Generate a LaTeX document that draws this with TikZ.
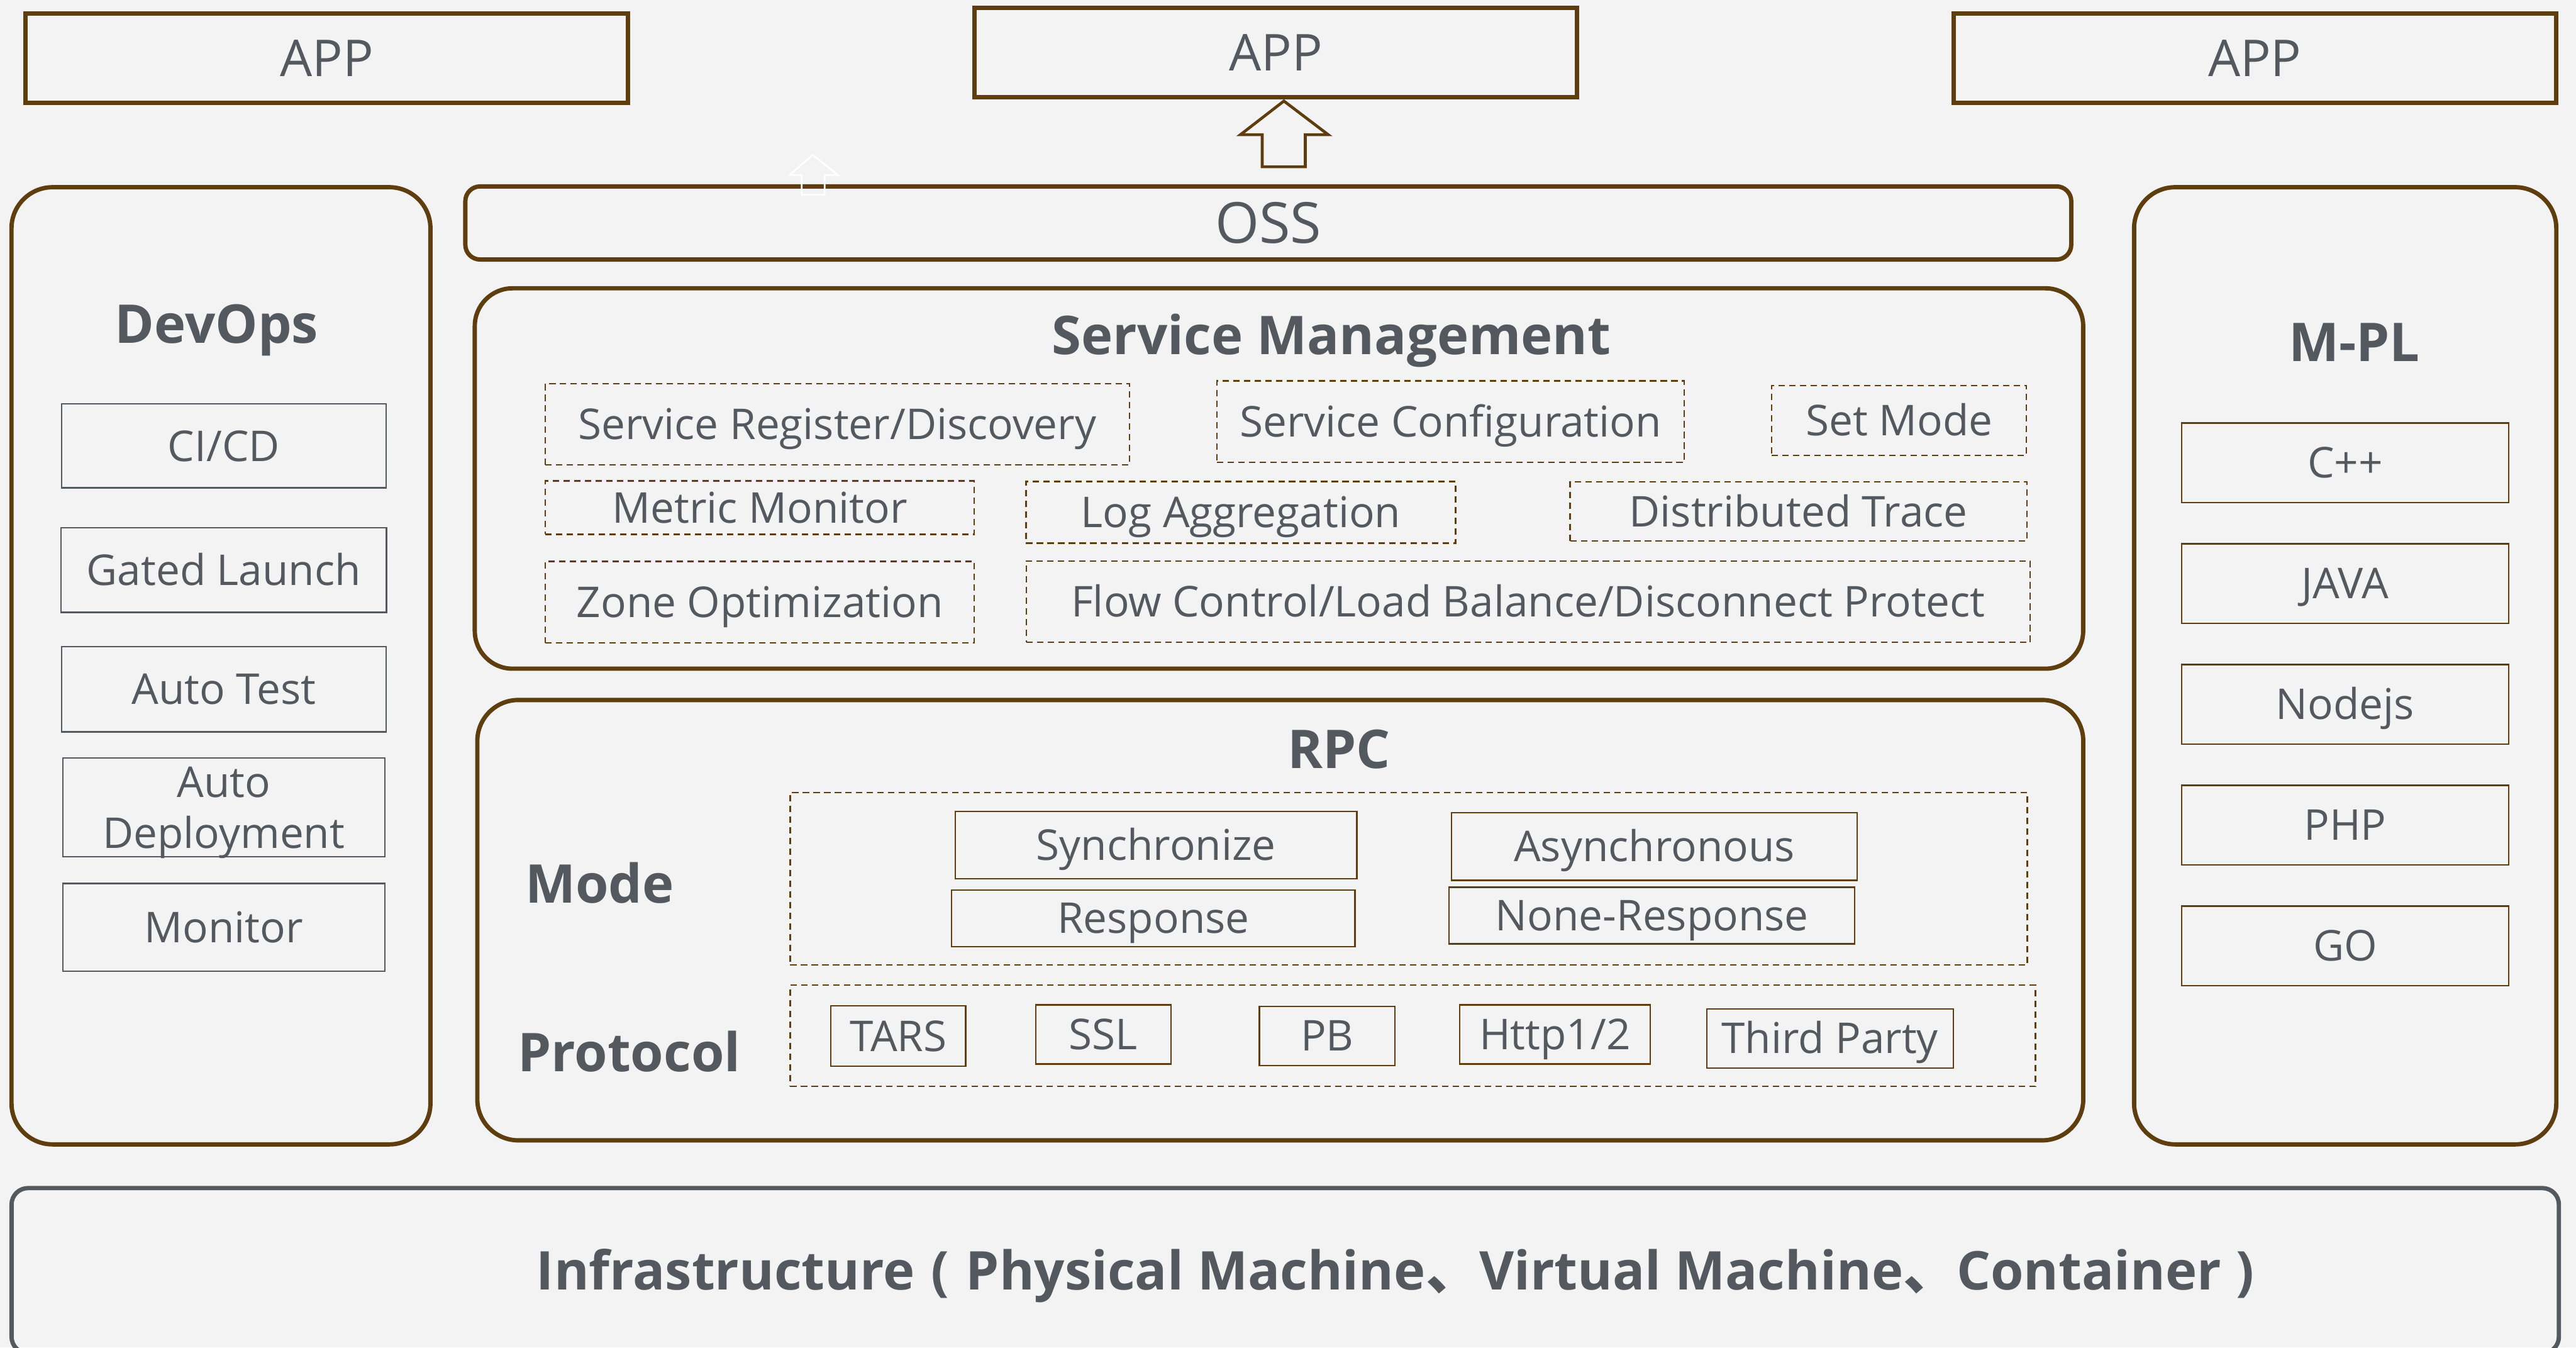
\documentclass[tikz,border=0pt]{standalone}
\usepackage{fontspec}
\setmainfont{Open Sans}
\newfontfamily\cjkfont{Noto Sans CJK SC}
\usetikzlibrary{positioning}
\definecolor{tarsbrown}{RGB}{94,61,14}
\definecolor{tarsgrey}{RGB}{84,89,96}
\definecolor{paper}{RGB}{243,243,243}
\begin{document}
\begin{tikzpicture}[x=0.2mm, y=-0.2mm,
  every node/.style={text=tarsgrey, inner sep=0pt},
  wall/.style={draw=tarsbrown, line width=1.5pt},
  frame/.style={wall, rounded corners=5mm},
  appbox/.style={wall, minimum width=73.3mm, minimum height=10.9mm,
    font=\fontsize{17.6}{21}\selectfont, text height=12.6pt, text depth=0pt},
  item/.style={line width=0.5pt, font=\fontsize{14.7}{17.5}\selectfont,
    text height=10.5pt, text depth=0pt},
  greybox/.style={item, draw=tarsgrey},
  brownbox/.style={item, draw=tarsbrown},
  dashbox/.style={item, draw=tarsbrown, dash pattern=on 2.2pt off 1.5pt},
  heading/.style={anchor=base, font=\bfseries\fontsize{18.5}{22}\selectfont}]
  \path[use as bounding box, fill=paper] (0,0) rectangle (1568,820);
  \clip (0,0) rectangle (1568,820);

  \node (app1) [appbox] at (198.9,35.5) {APP};
  \node (app2) [appbox] at (776.5,32) {APP};
  \node (app3) [appbox] at (1372.5,35.4) {APP};
  \node (oss) [wall, rounded corners=1.8mm, minimum width=195.5mm, minimum height=8.9mm,
    font=\fontsize{19.6}{23}\selectfont, text height=14pt, text depth=0pt] at (772,135.7) {OSS};
  \draw[tarsbrown, line width=1pt] (781.5,61.5) -- (808.5,82) -- (794.5,82) -- (794.5,101.5)
    -- (768.3,101.5) -- (768.3,82) -- (755,82) -- cycle;
  \draw[white, line width=0.6pt] (494.7,94.3) -- (510,106.5) -- (502,106.5) -- (502,118.6)
    -- (488,118.6) -- (488,106.5) -- (480.6,106.5) -- cycle;

  \node (devops) [frame, minimum width=51mm, minimum height=116.5mm] at (134.5,405.2) {};
  \node (mpl) [frame, minimum width=51.4mm, minimum height=116.5mm] at (1427.5,405.2) {};
  \node (svc) [frame, rounded corners=4.6mm, minimum width=195.8mm, minimum height=46.3mm] at (778.5,291.2) {};
  \node (rpc) [frame, minimum width=195.5mm, minimum height=53.6mm] at (779.3,560) {};
  \node (infra) [draw=tarsgrey, line width=1.5pt, rounded corners=2mm, minimum width=310.1mm,
    minimum height=20.1mm] at (782.3,773.3) {};

  \node (devopstitle) [heading] at (131.9,208.7) {DevOps};
  \node (mpltitle) [heading] at (1433,220) {M-PL};
  \node (svctitle) [heading] at (810.5,215.6) {Service Management};
  \node (rpctitle) [heading] at (815,467.6) {RPC};
  \node (modetitle) [heading, anchor=base west] at (319.4,549.5) {Mode};
  \node (prototitle) [heading, anchor=base west] at (314.8,652.3) {Protocol};
  \node (infratitle) [heading] at (849.4,785) {Infrastructure\hspace{2mm}(\hspace{2mm}Physical
    Machine{\cjkfont 、}Virtual Machine{\cjkfont 、}Container\hspace{1.8mm})};

  \node (cicd) [greybox, minimum width=39.5mm, minimum height=10.2mm] at (136.2,271.4) {CI/CD};
  \node (gated) [greybox, below of=cicd, node distance=15.1mm, minimum width=39.6mm, minimum height=10.3mm] {Gated Launch};
  \node (autotest) [greybox, below of=gated, node distance=14.5mm, minimum width=39.5mm, minimum height=10.4mm] {Auto Test};
  \node (autodeploy) [greybox, below of=autotest, node distance=14.4mm, minimum width=39.2mm, minimum height=12mm,
    align=center, text height={}] {Auto\\Deployment};
  \node (monitor) [greybox, below of=autodeploy, node distance=14.6mm, minimum width=39.2mm, minimum height=10.7mm] {Monitor};

  \node (cpp) [brownbox, minimum width=39.8mm, minimum height=9.7mm] at (1427.5,281.7) {C++};
  \node (java) [brownbox, below of=cpp, node distance=14.7mm, minimum width=39.8mm, minimum height=9.7mm] {JAVA};
  \node (nodejs) [brownbox, below of=java, node distance=14.7mm, minimum width=39.8mm, minimum height=9.7mm] {Nodejs};
  \node (php) [brownbox, below of=nodejs, node distance=14.7mm, minimum width=39.8mm, minimum height=9.7mm] {PHP};
  \node (go) [brownbox, below of=php, node distance=14.7mm, minimum width=39.8mm, minimum height=9.7mm] {GO};

  \node (reg) [dashbox, minimum width=71.1mm, minimum height=9.9mm] at (509.7,258.2) {Service Register/Discovery};
  \node (conf) [dashbox, minimum width=56.9mm, minimum height=9.9mm] at (883,256.5) {Service Configuration};
  \node (setmode) [dashbox, minimum width=31mm, minimum height=8.5mm] at (1156,255.8) {Set Mode};
  \node (metric) [dashbox, minimum width=52.2mm, minimum height=6.5mm] at (462.5,308.9) {Metric Monitor};
  \node (logagg) [dashbox, minimum width=52.3mm, minimum height=7.5mm] at (755.3,311.8) {Log Aggregation};
  \node (trace) [dashbox, minimum width=55.6mm, minimum height=7.2mm] at (1094.7,311.3) {Distributed Trace};
  \node (zone) [dashbox, below of=metric, node distance=11.5mm, minimum width=52.2mm, minimum height=9.9mm] {Zone Optimization};
  \node (flow) [dashbox, minimum width=122.2mm, minimum height=9.9mm] at (930.2,366.1) {Flow Control/Load Balance/Disconnect Protect};

  \node (modebox) [dashbox, minimum width=150.6mm, minimum height=21mm] at (857.5,534.8) {};
  \node (sync) [brownbox, minimum width=48.9mm, minimum height=8.2mm] at (703.7,514.2) {Synchronize};
  \node (async) [brownbox, minimum width=49.4mm, minimum height=8.2mm] at (1007,515.2) {Asynchronous};
  \node (resp) [brownbox, minimum width=49.1mm, minimum height=6.9mm] at (702,558.8) {Response};
  \node (noresp) [brownbox, minimum width=49.4mm, minimum height=6.9mm] at (1005.5,557.2) {None-Response};

  \node (protobox) [dashbox, minimum width=151.6mm, minimum height=12.3mm] at (860,630.3) {};
  \node (tars) [brownbox, minimum width=16.4mm, minimum height=7.4mm] at (546.8,630.5) {TARS};
  \node (ssl) [brownbox, minimum width=16.5mm, minimum height=7.2mm] at (671.6,629.5) {SSL};
  \node (pb) [brownbox, minimum width=16.5mm, minimum height=7.2mm] at (807.8,630.4) {PB};
  \node (http) [brownbox, minimum width=23.2mm, minimum height=7.2mm] at (946.5,629.5) {Http1/2};
  \node (third) [brownbox, minimum width=30mm, minimum height=7.2mm] at (1113.9,631.9) {Third Party};
\end{tikzpicture}
\end{document}
